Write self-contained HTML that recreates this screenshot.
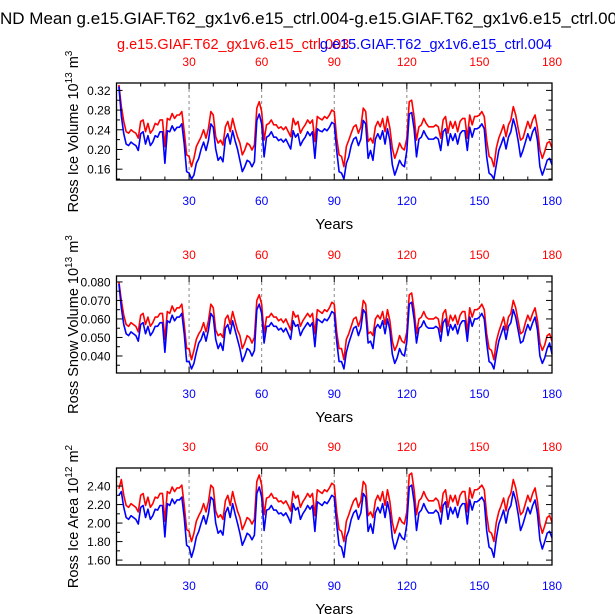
<!DOCTYPE html>
<html><head><meta charset="utf-8"><style>
body{margin:0;background:#fff;}
svg{display:block;font-family:"Liberation Sans",sans-serif;}
</style></head><body>
<svg id="chart" width="615" height="614" viewBox="0 0 615 614">
<text x="0" y="24" font-size="17">ND Mean g.e15.GIAF.T62_gx1v6.e15_ctrl.004-g.e15.GIAF.T62_gx1v6.e15_ctrl.003</text>
<text x="117" y="49" font-size="14.5" fill="#ff0000">g.e15.GIAF.T62_gx1v6.e15_ctrl.003</text>
<text x="552" y="49" font-size="14.5" fill="#0000ff" text-anchor="end">g.e15.GIAF.T62_gx1v6.e15_ctrl.004</text>
</svg>
<script>
const years = Array.from({length:180},(_,i)=>i+1);
const xTicks = [30,60,90,120,150,180];
const red1 = [.331,.287,.257,.236,.233,.240,.236,.233,.223,.257,.260,.236,.253,.233,.240,.253,.250,.260,.260,.206,.263,.260,.273,.263,.270,.270,.277,.236,.189,.186,.165,.182,.206,.216,.226,.240,.223,.243,.277,.270,.226,.213,.219,.209,.246,.257,.236,.263,.243,.226,.213,.189,.199,.213,.209,.199,.209,.284,.297,.277,.219,.250,.253,.260,.250,.250,.243,.246,.240,.246,.236,.226,.263,.250,.257,.233,.243,.250,.260,.253,.260,.216,.267,.263,.260,.267,.263,.270,.280,.277,.223,.189,.186,.165,.206,.219,.233,.246,.250,.233,.246,.284,.277,.216,.223,.213,.246,.257,.246,.263,.236,.267,.243,.203,.182,.196,.213,.203,.199,.223,.297,.300,.267,.219,.246,.250,.263,.253,.246,.246,.246,.250,.246,.223,.260,.267,.233,.257,.243,.257,.236,.257,.263,.263,.223,.270,.250,.267,.267,.270,.277,.267,.219,.186,.182,.165,.203,.223,.236,.250,.226,.250,.260,.287,.270,.243,.219,.223,.240,.257,.243,.260,.270,.243,.199,.182,.196,.213,.216,.203];
const blue1 = [.328,.268,.232,.211,.208,.215,.211,.208,.198,.232,.236,.211,.228,.208,.215,.228,.225,.236,.236,.172,.238,.236,.248,.238,.245,.245,.252,.211,.155,.152,.140,.148,.172,.182,.201,.215,.198,.218,.252,.245,.201,.178,.185,.175,.221,.232,.211,.238,.218,.201,.178,.155,.165,.178,.175,.165,.175,.259,.272,.252,.185,.225,.228,.236,.225,.225,.218,.221,.215,.221,.211,.201,.238,.225,.232,.208,.218,.225,.236,.228,.236,.182,.242,.238,.236,.242,.238,.245,.255,.252,.198,.155,.152,.140,.172,.185,.208,.221,.225,.208,.221,.259,.252,.182,.198,.178,.221,.232,.221,.238,.211,.242,.218,.169,.148,.162,.178,.169,.165,.198,.272,.275,.242,.185,.221,.225,.238,.228,.221,.221,.221,.225,.221,.198,.236,.242,.208,.232,.218,.232,.211,.232,.238,.238,.198,.245,.225,.242,.242,.245,.252,.242,.185,.152,.148,.140,.169,.198,.211,.225,.201,.225,.236,.262,.245,.218,.185,.198,.215,.232,.218,.236,.245,.218,.165,.148,.162,.178,.182,.169];
const red2 = [.080,.070,.062,.057,.056,.058,.057,.056,.053,.062,.063,.057,.061,.056,.058,.061,.061,.063,.063,.049,.064,.063,.067,.064,.066,.066,.068,.057,.044,.044,.038,.043,.049,.052,.054,.058,.053,.059,.068,.066,.054,.051,.052,.050,.060,.062,.057,.064,.059,.054,.051,.044,.047,.051,.050,.047,.050,.070,.073,.068,.052,.061,.061,.063,.061,.061,.059,.060,.058,.060,.057,.054,.064,.061,.062,.056,.059,.061,.063,.061,.063,.052,.065,.064,.063,.065,.064,.066,.069,.068,.053,.044,.044,.038,.049,.052,.056,.060,.061,.056,.060,.070,.068,.052,.053,.051,.060,.062,.060,.064,.057,.065,.059,.048,.043,.046,.051,.048,.047,.053,.073,.074,.065,.052,.060,.061,.064,.061,.060,.060,.060,.061,.060,.053,.063,.065,.056,.062,.059,.062,.057,.062,.064,.064,.053,.066,.061,.065,.065,.066,.068,.065,.052,.044,.043,.038,.048,.053,.057,.061,.054,.061,.063,.070,.066,.059,.052,.053,.058,.062,.059,.063,.066,.059,.047,.043,.046,.051,.052,.048];
const blue2 = [.079,.066,.057,.052,.051,.053,.052,.051,.048,.057,.058,.052,.056,.051,.053,.056,.056,.058,.058,.042,.059,.058,.062,.059,.061,.061,.063,.052,.037,.037,.033,.036,.042,.047,.049,.053,.048,.054,.063,.061,.049,.044,.047,.043,.055,.057,.052,.059,.054,.049,.044,.037,.040,.044,.043,.040,.043,.065,.068,.063,.047,.056,.056,.058,.056,.056,.054,.055,.053,.055,.052,.049,.059,.056,.057,.051,.054,.056,.058,.056,.058,.045,.060,.059,.058,.060,.059,.061,.064,.063,.048,.037,.037,.033,.042,.047,.051,.055,.056,.051,.055,.065,.063,.047,.048,.044,.055,.057,.055,.059,.052,.060,.054,.041,.036,.039,.044,.041,.040,.048,.068,.069,.060,.047,.055,.056,.059,.056,.055,.055,.055,.056,.055,.048,.058,.060,.051,.057,.054,.057,.052,.057,.059,.059,.048,.061,.056,.060,.060,.061,.063,.060,.047,.037,.036,.033,.041,.048,.052,.056,.049,.056,.058,.065,.061,.054,.047,.048,.053,.057,.054,.058,.061,.054,.040,.036,.039,.044,.047,.041];
const red3 = [2.37,2.47,2.30,2.19,2.17,2.21,2.19,2.17,2.12,2.30,2.32,2.19,2.28,2.17,2.21,2.28,2.27,2.32,2.32,2.02,2.34,2.32,2.39,2.34,2.38,2.38,2.41,2.19,1.93,1.91,1.80,1.89,2.02,2.08,2.13,2.21,2.12,2.23,2.41,2.38,2.13,2.06,2.09,2.04,2.24,2.30,2.19,2.34,2.23,2.13,2.06,1.93,1.99,2.06,2.04,1.99,2.04,2.45,2.52,2.41,2.09,2.27,2.28,2.32,2.27,2.27,2.23,2.24,2.21,2.24,2.19,2.13,2.34,2.27,2.30,2.17,2.23,2.27,2.32,2.28,2.32,2.08,2.36,2.34,2.32,2.36,2.34,2.38,2.43,2.41,2.12,1.93,1.91,1.80,2.02,2.09,2.17,2.24,2.27,2.17,2.24,2.45,2.41,2.08,2.12,2.06,2.24,2.30,2.24,2.34,2.19,2.36,2.23,2.01,1.89,1.97,2.06,2.01,1.99,2.12,2.52,2.54,2.36,2.09,2.24,2.27,2.34,2.28,2.24,2.24,2.24,2.27,2.24,2.12,2.32,2.36,2.17,2.30,2.23,2.30,2.19,2.30,2.34,2.34,2.12,2.38,2.27,2.36,2.36,2.38,2.41,2.36,2.09,1.91,1.89,1.80,2.01,2.12,2.19,2.27,2.13,2.27,2.32,2.47,2.38,2.23,2.09,2.12,2.21,2.30,2.23,2.32,2.38,2.23,1.99,1.89,1.97,2.06,2.08,2.01];
const blue3 = [2.30,2.34,2.17,2.06,2.04,2.08,2.06,2.04,1.99,2.17,2.19,2.06,2.15,2.04,2.08,2.15,2.14,2.19,2.19,1.85,2.21,2.19,2.26,2.21,2.25,2.25,2.28,2.06,1.76,1.74,1.63,1.72,1.85,1.91,2.00,2.08,1.99,2.10,2.28,2.25,2.00,1.89,1.92,1.87,2.11,2.17,2.06,2.21,2.10,2.00,1.89,1.76,1.82,1.89,1.87,1.82,1.87,2.32,2.39,2.28,1.92,2.14,2.15,2.19,2.14,2.14,2.10,2.11,2.08,2.11,2.06,2.00,2.21,2.14,2.17,2.04,2.10,2.14,2.19,2.15,2.19,1.91,2.23,2.21,2.19,2.23,2.21,2.25,2.30,2.28,1.99,1.76,1.74,1.63,1.85,1.92,2.04,2.11,2.14,2.04,2.11,2.32,2.28,1.91,1.99,1.89,2.11,2.17,2.11,2.21,2.06,2.23,2.10,1.84,1.72,1.80,1.89,1.84,1.82,1.99,2.39,2.41,2.23,1.92,2.11,2.14,2.21,2.15,2.11,2.11,2.11,2.14,2.11,1.99,2.19,2.23,2.04,2.17,2.10,2.17,2.06,2.17,2.21,2.21,1.99,2.25,2.14,2.23,2.23,2.25,2.28,2.23,1.92,1.74,1.72,1.63,1.84,1.99,2.06,2.14,2.00,2.14,2.19,2.34,2.25,2.10,1.92,1.99,2.08,2.17,2.10,2.19,2.25,2.10,1.82,1.72,1.80,1.89,1.91,1.84];
const yTicks1 = [0.32,0.28,0.24,0.20,0.16];
const yTicks2 = [0.080,0.070,0.060,0.050,0.040];
const yTicks3 = [2.40,2.20,2.00,1.80,1.60];

const NS = "http://www.w3.org/2000/svg";
const svg = document.getElementById('chart');
function mk(tag, attrs, parent){const e=document.createElementNS(NS,tag);for(const k in attrs)e.setAttribute(k,attrs[k]);(parent||svg).appendChild(e);return e;}
const X0=116.5, X1=552;
function xs(v){return X0+(v-0)/(180-0)*(X1-X0);}

const panels = [
 {top:83,bot:180,min:0.138,max:0.335,ticks:yTicks1,minor:0.02,dec:2,red:red1,blue:blue1,title:"Ross Ice Volume 10",exp:"13",unit:" m",uexp:"3",key:"ice-volume"},
 {top:276,bot:373,min:0.0308,max:0.0832,ticks:yTicks2,minor:0.005,dec:3,red:red2,blue:blue2,title:"Ross Snow Volume 10",exp:"13",unit:" m",uexp:"3",key:"snow-volume"},
 {top:468,bot:565,min:1.547,max:2.595,ticks:yTicks3,minor:0.1,dec:2,red:red3,blue:blue3,title:"Ross Ice Area 10",exp:"12",unit:" m",uexp:"2",key:"ice-area"}
];

panels.forEach((p,pi)=>{
  const ys = v => p.bot-(v-p.min)/(p.max-p.min)*(p.bot-p.top);
  const g = mk('g',{});
  
  
  xTicks.slice(0,5).forEach(t=>{
    const l=mk('line',{x1:xs(t),x2:xs(t),y1:p.top,y2:p.bot,stroke:'#888','stroke-width':1,'stroke-dasharray':'3,3'},g);
    
    
  });
  [['red',p.red,'#ff0000'],['blue',p.blue,'#0000ff']].forEach(([nm,arr,col])=>{
    const d = arr.map((v,i)=>(i?'L':'M')+xs(years[i]).toFixed(2)+','+ys(v).toFixed(2)).join('');
    const path = mk('path',{d:d,fill:'none',stroke:col,'stroke-width':1.6,'stroke-linejoin':'round'},g);
    
    
  });
  const fr = mk('rect',{x:X0,y:p.top,width:X1-X0,height:p.bot-p.top,fill:'none',stroke:'#000','stroke-width':1.3},g);
  
  
  for(let t=10;t<=180;t+=10){
    const major = t%30===0, len = major?6:3.5;
    mk('line',{x1:xs(t),x2:xs(t),y1:p.bot,y2:p.bot-len,stroke:'#000','stroke-width':1},g);
    mk('line',{x1:xs(t),x2:xs(t),y1:p.top,y2:p.top+len,stroke:'#000','stroke-width':1},g);
  }
  xTicks.forEach(t=>{
    const tb = mk('text',{x:xs(t),y:p.bot+25,'font-size':12,fill:'#0000ff','text-anchor':'middle'},g);
    tb.textContent=t;
    
    
    const tt = mk('text',{x:xs(t),y:p.top-17,'font-size':12,fill:'#ff0000','text-anchor':'middle'},g);
    tt.textContent=t;
    
    
  });
  for(let v=p.ticks[p.ticks.length-1]-p.minor*4; v<=p.max; v+=p.minor){
    if(v<p.min) continue;
    const y=ys(v);
    const isMajor = p.ticks.some(t=>Math.abs(t-v)<p.minor/10);
    const len = isMajor?6:3.5;
    mk('line',{x1:X0,x2:X0+len,y1:y,y2:y,stroke:'#000','stroke-width':1},g);
    mk('line',{x1:X1,x2:X1-len,y1:y,y2:y,stroke:'#000','stroke-width':1},g);
  }
  p.ticks.forEach(t=>{
    const tl = mk('text',{x:X0-6,y:ys(t)+4.5,'font-size':12,'text-anchor':'end'},g);
    tl.textContent=t.toFixed(p.dec);
    
    
  });
  const xt = mk('text',{x:(X0+X1)/2,y:p.bot+49,'font-size':15,'text-anchor':'middle'},g);
  xt.textContent='Years';
  
  
  const cy=(p.top+p.bot)/2;
  const yt = mk('text',{x:0,y:0,'font-size':14.5,'text-anchor':'middle',transform:`translate(78,${cy}) rotate(-90)`},g);
  
  
  const s1=mk('tspan',{},yt); s1.textContent=p.title;
  const s2=mk('tspan',{dy:-6,'font-size':10},yt); s2.textContent=p.exp;
  const s3=mk('tspan',{dy:6},yt); s3.textContent=p.unit;
  const s4=mk('tspan',{dy:-6,'font-size':10},yt); s4.textContent=p.uexp;
});
</script>
</body></html>
